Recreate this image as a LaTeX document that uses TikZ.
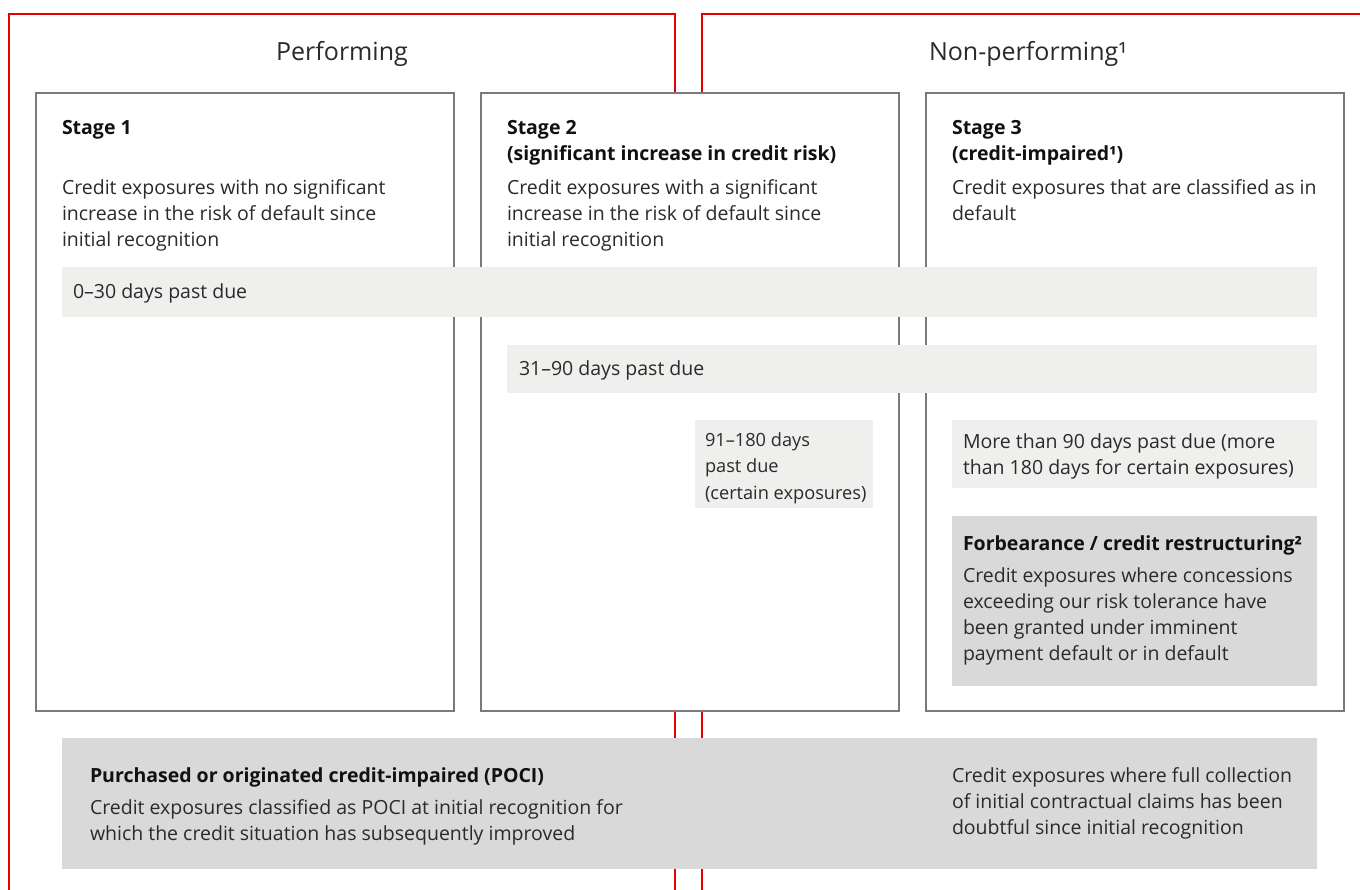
\documentclass[tikz,border=0pt]{standalone}
\usepackage{fontspec}
\setmainfont{Open Sans}
\definecolor{ubsred}{HTML}{E60000}
\definecolor{boxgray}{HTML}{7A7A7A}
\definecolor{barlight}{HTML}{EFEFEE}
\definecolor{bardark}{HTML}{D9D9D9}
\definecolor{txtcol}{HTML}{2A2A2A}
\definecolor{ttlcol}{HTML}{111111}
\begin{document}
\begin{tikzpicture}[x=1pt,y=-1pt,
  redline/.style={draw=ubsred, line width=1.3pt},
  stagebox/.style={draw=boxgray, line width=1.6pt, fill=white, inner sep=0pt, outer sep=0pt},
  lightbar/.style={fill=barlight, draw=none, inner sep=0pt, outer sep=0pt},
  darkbar/.style={fill=bardark, draw=none, inner sep=0pt, outer sep=0pt},
  body/.style={anchor=north west, inner sep=0pt, outer sep=0pt, align=left, text=txtcol, font=\fontsize{19.5}{26}\selectfont},
  line/.style={anchor=base west, inner sep=0pt, outer sep=0pt, text=txtcol, font=\fontsize{19.5}{26}\selectfont},
  title/.style={anchor=base west, inner sep=0pt, outer sep=0pt, text=ttlcol, font=\fontsize{19.5}{26}\selectfont\bfseries},
  titles/.style={anchor=north west, inner sep=0pt, outer sep=0pt, align=left, text=ttlcol, font=\fontsize{19.5}{26}\selectfont\bfseries},
  hdr/.style={anchor=base, inner sep=0pt, text=txtcol, font=\fontsize{25}{30}\selectfont}]
\useasboundingbox (0,0) rectangle (1360,890);
\fill[white] (0,0) rectangle (1360,890);

% red brackets
\draw[redline] (9,890) -- (9,14) -- (675,14) -- (675,890);
\draw[redline] (702,890) -- (702,14) -- (1360,14);

% headers
\node[hdr] (perf) at (342,61) {Performing};
\node[hdr] (nonperf) at (1028,61) {Non-performing¹};

% stage boxes
\node[stagebox, minimum width=418pt, minimum height=618pt] (s1) at (245,402) {};
\node[stagebox, minimum width=418pt, minimum height=618pt] (s2) at (690,402) {};
\node[stagebox, minimum width=418pt, minimum height=618pt] (s3) at (1135,402) {};

% bars
\node[lightbar, minimum width=1255pt, minimum height=50pt] (b030) at (689.5,292) {};
\node[lightbar, minimum width=810pt, minimum height=48pt] (b3190) at (912,369) {};
\node[lightbar, minimum width=178pt, minimum height=88pt] (b91) at (784,464) {};
\node[lightbar, minimum width=365pt, minimum height=68pt] (b90) at (1134.5,454) {};
\node[darkbar, minimum width=365pt, minimum height=170pt] (forb) at (1134.5,601) {};
\node[darkbar, minimum width=1255pt, minimum height=131pt] (poci) at (689.5,803.5) {};

% stage texts
\node[title] (s1t) at (62,135) {Stage 1};
\node[body] (s1b) at (62,176.8) {\strut Credit exposures with no significant\\increase in the risk of default since\\initial recognition};
\node[titles] (s2t) at (507,116.8) {\strut Stage 2\\(significant increase in credit risk)};
\node[body] (s2b) at (507,176.8) {\strut Credit exposures with a significant\\increase in the risk of default since\\initial recognition};
\node[titles] (s3t) at (952,116.8) {\strut Stage 3\\(credit-impaired¹)};
\node[body] (s3b) at (952,176.8) {\strut Credit exposures that are classified as in\\default};

% bar texts
\node[line] (t030) at (73,299) {0--30 days past due};
\node[line] (t3190) at (519,376) {31--90 days past due};
\node[body, font=\fontsize{18.2}{26.5}\selectfont] (t91) at (705,427.5) {\strut 91--180 days\\past due\\(certain exposures)};
\node[body] (t90) at (963,429.8) {\strut More than 90 days past due (more\\than 180 days for certain exposures)};
\node[title] (tft) at (963,550) {Forbearance / credit restructuring²};
\node[body] (tfb) at (963,563.8) {\strut Credit exposures where concessions\\exceeding our risk tolerance have\\been granted under imminent\\payment default or in default};

% POCI
\node[title] (tpt) at (90,782) {Purchased or originated credit-impaired (POCI)};
\node[body] (tpb) at (90,795.8) {\strut Credit exposures classified as POCI at initial recognition for\\which the credit situation has subsequently improved};
\node[body] (tpr) at (952,763.8) {\strut Credit exposures where full collection\\of initial contractual claims has been\\doubtful since initial recognition};
\end{tikzpicture}
\end{document}
